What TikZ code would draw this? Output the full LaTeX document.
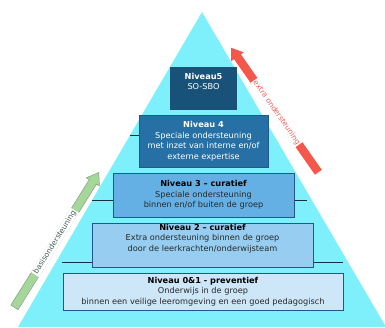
\documentclass[tikz,border=0pt]{standalone}
\usepackage{fontspec}
\setmainfont{DejaVu Sans}
\usetikzlibrary{shapes.arrows}
\definecolor{tri}{RGB}{125,240,252}
\definecolor{c5}{RGB}{25,82,120}
\definecolor{c4}{RGB}{38,112,165}
\definecolor{c3}{RGB}{100,175,228}
\definecolor{c2}{RGB}{150,205,240}
\definecolor{c01}{RGB}{205,230,248}
\definecolor{bord}{RGB}{35,85,145}
\definecolor{lin}{RGB}{20,50,60}
\definecolor{redarr}{RGB}{245,88,75}
\definecolor{redtxt}{RGB}{235,95,85}
\definecolor{grarr}{RGB}{165,215,155}
\definecolor{grbord}{RGB}{135,155,135}
\definecolor{grtxt}{RGB}{75,95,85}
\definecolor{bodytxt}{RGB}{40,40,40}
\begin{document}
\begin{tikzpicture}[x=1pt,y=-1pt,
  lvl/.style={rectangle, inner sep=0pt},
  txt/.style={align=center, inner sep=0pt, font=\fontsize{8.2}{10.5}\selectfont},
  sep/.style={draw=lin, line width=0.9pt},
  bigarrow/.style={single arrow, inner sep=0pt, text height=8pt, text depth=0pt, text width=0pt,
    single arrow head extend=3.5pt, single arrow tip angle=70}]
\useasboundingbox (0,0) rectangle (385,327);
\coordinate (apex) at (202,12);
\coordinate (bl) at (18,327);
\coordinate (br) at (386,327);
\fill[tri] (apex) -- (bl) -- (br) -- cycle;
% separator lines
\coordinate (s4l) at (130,135); \coordinate (s4r) at (150,135);
\coordinate (s3l) at (92,200); \coordinate (s3r) at (307,200);
\coordinate (s2l) at (62,262); \coordinate (s2r) at (343,262);
\draw[sep] (s4l) -- (s4r);
\draw[sep] (s3l) -- (s3r);
\draw[sep] (s2l) -- (s2r);
% boxes
\node[lvl, fill=c5, minimum width=67pt, minimum height=43pt] (n5) at (203.5,88.5) {};
\node[lvl, fill=c4, draw=c4!80!black, line width=0.4pt, minimum width=129pt, minimum height=52pt] (n4) at (203.5,141) {};
\node[lvl, fill=c3, draw=bord, line width=0.6pt, minimum width=181pt, minimum height=44pt] (n3) at (203.5,195) {};
\node[lvl, fill=c2, draw=bord, line width=0.6pt, minimum width=221pt, minimum height=44pt] (n2) at (202.5,245) {};
\node[lvl, fill=c01, draw=bord, line width=0.6pt, minimum width=280pt, minimum height=37pt] (n01) at (203,291.5) {};
% texts
\node[txt, text=white, anchor=north] (t5) at (203.5,73) {\textbf{Niveau5}\\SO-SBO};
\node[txt, text=white] (t4) at (n4) {\textbf{Niveau 4}\\Speciale ondersteuning\\met inzet van interne en/of\\externe expertise};
\node[txt, text=bodytxt] (t3) at (n3) {\textbf{\color{black}Niveau 3 – curatief}\\Speciale ondersteuning\\binnen en/of buiten de groep};
\node[txt, text=bodytxt, anchor=north] (t2) at (202.5,224) {\textbf{\color{black}Niveau 2 – curatief}\\Extra ondersteuning binnen de groep\\door de leerkrachten/onderwijsteam};
\node[txt, text=bodytxt] (t01) at (n01) {\textbf{\color{black}Niveau 0\&1 - preventief}\\Onderwijs in de groep\\binnen een veilige leeromgeving en een goed pedagogisch};
% side arrows
\node[bigarrow, fill=redarr, minimum height=152pt, rotate=125] (ra) at (276.5,112.5) {};
\node[fill=white, inner sep=1pt, text=redtxt, rotate=-55, font=\fontsize{7.5}{9}\selectfont] (rt) at (ra.center) {extra ondersteuning};
\node[bigarrow, fill=grarr, draw=grbord, line width=0.5pt, minimum height=159pt, rotate=58] (ga) at (55,242.5) {};
\node[fill=white, inner sep=1pt, text=grtxt, rotate=58, font=\fontsize{7.5}{9}\selectfont] (gt) at (ga.center) {basisondersteuning};
\end{tikzpicture}
\end{document}
